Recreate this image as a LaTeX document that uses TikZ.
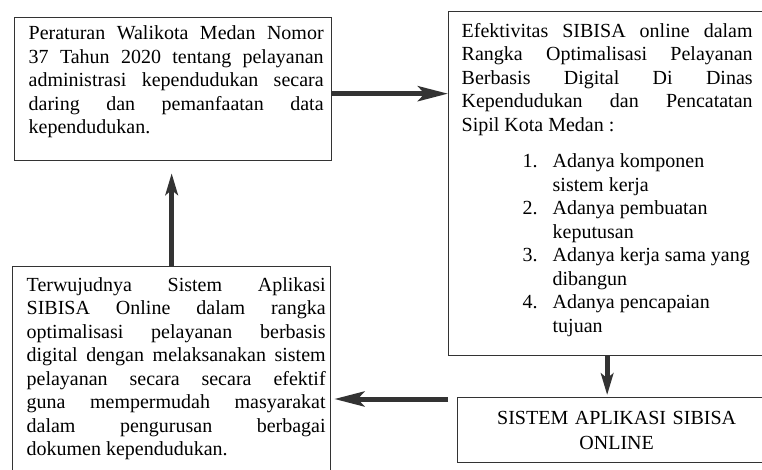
\documentclass[tikz,border=0pt]{standalone}
\usepackage{fontspec}
\setmainfont{Liberation Serif}
\usetikzlibrary{arrows.meta}
\hbadness=10000

\begin{document}
\begin{tikzpicture}[x=0.6pt,y=-0.6pt,
	kotak/.style={draw=black!80, line width=0.8pt, anchor=north west, inner xsep=0pt, inner ysep=6pt, font=\fontsize{12}{14.1}\selectfont},
	panah/.style={draw=black!80, line width=3pt, -{Stealth[length=18pt,width=9pt,inset=4pt]}},
	panahtegak/.style={panah, -{Stealth[length=13pt,width=7.5pt,inset=3pt]}}]
	\useasboundingbox (0,0) rectangle (762,470);
	\clip (0,0) rectangle (762,470);
	\fill[white] (0,0) rectangle (762,470);

	% kotak kiri atas
	\node[kotak, inner ysep=5pt] (perwal) at (14,17) {\hspace*{8.4pt}\parbox[t][75.8pt][t]{177pt}{Peraturan Walikota Medan Nomor\linebreak 37 Tahun 2020 tentang pelayanan\linebreak administrasi kependudukan secara\linebreak daring dan pemanfaatan data\linebreak kependudukan.}\hspace*{4.8pt}};
	% kotak kanan atas
	\node[kotak, inner ysep=6.8pt] (efektif) at (448,11) {\hspace*{7.8pt}\parbox[t][192.8pt][t]{174.6pt}{Efektivitas SIBISA online dalam\linebreak Rangka Optimalisasi Pelayanan\linebreak Berbasis Digital Di Dinas\linebreak Kependudukan dan Pencatatan\linebreak Sipil Kota Medan :\par\vspace{8pt}
		{\leftskip=54.6pt\noindent
		\llap{\makebox[18pt][l]{1.}}Adanya komponen\newline sistem kerja\newline
		\llap{\makebox[18pt][l]{2.}}Adanya pembuatan\newline keputusan\newline
		\llap{\makebox[18pt][l]{3.}}Adanya kerja sama yang\newline dibangun\newline
		\llap{\makebox[18pt][l]{4.}}Adanya pencapaian\newline tujuan\par}}\hspace*{7.8pt}};
	% kotak kiri bawah
	\node[kotak, inner ysep=6.3pt] (terwujud) at (12,266) {\hspace*{8.4pt}\parbox[t][118.8pt][t]{179.4pt}{Terwujudnya Sistem Aplikasi\linebreak SIBISA Online dalam rangka\linebreak optimalisasi pelayanan berbasis\linebreak digital dengan melaksanakan sistem\linebreak pelayanan secara secara efektif\linebreak guna mempermudah masyarakat\linebreak dalam pengurusan berbagai\linebreak dokumen kependudukan.}\hspace*{3pt}};
	% kotak kanan bawah
	\node[kotak, inner ysep=0pt, minimum height=39pt, text width=190.8pt, align=center, font=\fontsize{12}{15}\selectfont] (sistem) at (457,397) {SISTEM APLIKASI SIBISA\\ONLINE};

	% panah
	\coordinate (ujung1) at ([yshift=-2.7pt]perwal.east);
	\draw[panah] (ujung1) -- (ujung1 -| efektif.west);
	\draw[panahtegak, shorten >=1.2pt] (efektif.south) -- (efektif.south |- sistem.north);
	\coordinate (ujung2) at ([xshift=-5.4pt,yshift=-1.2pt]sistem.north west);
	\draw[panah, shorten >=1.8pt] (ujung2) -- (ujung2 -| terwujud.east);
	\draw[panahtegak, shorten >=7.2pt] (terwujud.north) -- (terwujud.north |- perwal.south);
\end{tikzpicture}
\end{document}
